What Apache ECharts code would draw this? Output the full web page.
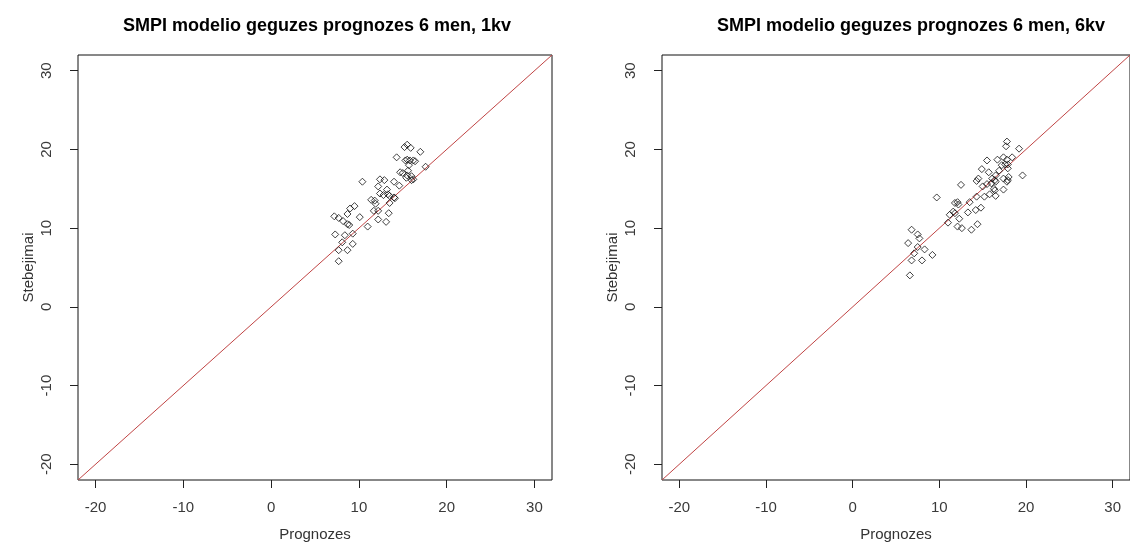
<!DOCTYPE html>
<html>
<head>
<meta charset="utf-8">
<script src="https://cdn.jsdelivr.net/npm/echarts@6/dist/echarts.min.js"></script>
<style>
  html, body { margin: 0; padding: 0; background: #fff; overflow: hidden; }
  #chart { width: 1130px; height: 551px; }
</style>
</head>
<body>
<div id="chart"></div>
<script>
// Forecast (Prognozes) vs observed (Stebejimai) values, 1-quarter model
var prog1 = [15.2,15.5,15.9,17.0,14.3,15.3,15.5,15.8,16.2,16.4,15.7,17.6,14.7,15.0,15.6,15.5,16.0,15.4,16.2,16.0,
             10.4,12.4,12.9,14.0,14.6,12.2,13.2,12.4,12.8,13.3,13.5,14.0,14.1,11.4,11.8,11.9,13.5,9.5,9.0,8.7,
             11.7,12.2,13.4,10.1,7.2,7.7,8.2,8.7,8.9,12.2,13.1,11.0,7.3,8.4,9.3,8.1,9.3,7.7,8.7,7.7];
var obs1  = [20.3,20.6,20.2,19.7,19.0,18.6,18.7,18.6,18.6,18.5,18.0,17.8,17.1,17.0,17.3,16.7,16.6,16.4,16.2,16.1,
             15.9,16.2,16.1,15.9,15.4,15.3,14.9,14.4,14.2,14.3,14.1,13.9,13.8,13.6,13.5,13.1,13.2,12.8,12.5,11.8,
             12.2,12.2,11.9,11.4,11.5,11.3,10.9,10.5,10.4,11.1,10.8,10.2,9.2,9.1,9.3,8.2,8.0,7.2,7.2,5.8];

// Forecast vs observed values, 6-quarter model
var prog6 = [17.8,17.7,19.2,15.5,16.7,17.4,17.8,18.4,17.2,17.6,17.9,17.9,14.9,15.7,16.9,16.5,17.4,18.0,19.6,14.3,
             14.5,16.1,16.4,12.5,15.0,15.5,16.0,16.5,17.8,17.9,16.3,16.4,17.4,14.3,15.2,15.8,16.5,9.7,13.5,11.8,
             12.1,12.2,14.8,14.2,13.3,11.2,11.8,11.6,12.3,11.0,14.4,13.7,12.1,12.6,6.8,7.5,7.7,6.4,7.5,8.3,
             9.2,7.1,6.8,8.0,6.6];
var obs6  = [21.0,20.4,20.1,18.6,18.7,19.0,18.7,19.0,18.0,18.1,18.1,17.6,17.5,17.1,17.3,16.7,16.3,16.5,16.7,16.0,
             16.3,16.3,16.1,15.5,15.3,15.6,15.7,15.9,15.9,16.1,15.0,14.8,14.9,14.0,14.0,14.3,14.1,13.9,13.3,13.2,
             13.3,13.0,12.6,12.3,12.0,11.7,11.9,12.1,11.2,10.7,10.5,9.8,10.2,10.0,9.8,9.2,8.7,8.1,7.6,7.3,
             6.6,6.8,5.9,5.9,4.0];

var titles = ['SMPI modelio geguzes prognozes 6 men, 1kv', 'SMPI modelio geguzes prognozes 6 men, 6kv'];
var xName = 'Prognozes';
var yName = 'Stebejimai';
var tickValues = [-20, -10, 0, 10, 20, 30];
var axisRange = [-22, 32];   // shared x / y limits
var identity = [-22, 32];    // y = x reference line ends

var FONT = '"Liberation Sans", Arial, sans-serif';

function pairs(xs, ys) {
  return xs.map(function (x, i) { return [x, ys[i]]; });
}

function xAxis(gi) {
  return {
    type: 'value', gridIndex: gi, min: axisRange[0], max: axisRange[1],
    name: xName, nameLocation: 'middle', nameGap: 47,
    nameTextStyle: { fontFamily: FONT, fontSize: 15, color: '#333' },
    axisLine: { show: false, onZero: false },
    splitLine: { show: false },
    axisTick: { show: true, inside: false, length: 8, customValues: tickValues,
                lineStyle: { color: '#222', width: 1 } },
    axisLabel: { customValues: tickValues, margin: 20, fontFamily: FONT, fontSize: 15, color: '#3a3a3a' }
  };
}

function yAxis(gi) {
  return {
    type: 'value', gridIndex: gi, min: axisRange[0], max: axisRange[1],
    name: yName, nameLocation: 'middle', nameGap: 42, nameRotate: 90,
    nameTextStyle: { fontFamily: FONT, fontSize: 15, color: '#333' },
    axisLine: { show: false, onZero: false },
    splitLine: { show: false },
    axisTick: { show: true, inside: false, length: 8, customValues: tickValues,
                lineStyle: { color: '#222', width: 1 } },
    axisLabel: { customValues: tickValues, rotate: 90, margin: 24, fontFamily: FONT, fontSize: 15, color: '#3a3a3a' }
  };
}

function scatter(gi, xs, ys) {
  return {
    type: 'scatter', xAxisIndex: gi, yAxisIndex: gi,
    data: pairs(xs, ys),
    symbol: 'diamond', symbolSize: 7,
    itemStyle: { color: 'rgba(0,0,0,0)', borderColor: '#111', borderWidth: 1 },
    silent: true, z: 3
  };
}

function refLine(gi) {
  return {
    type: 'line', xAxisIndex: gi, yAxisIndex: gi,
    data: identity.map(function (v) { return [v, v]; }),
    symbol: 'none', silent: true, z: 2,
    lineStyle: { color: '#c04444', width: 1 }
  };
}

var chart = echarts.init(document.getElementById('chart'), null, { renderer: 'canvas' });
chart.setOption({
  animation: false,
  backgroundColor: '#ffffff',
  title: [
    { text: titles[0], left: 312, top: 12, textAlign: 'center',
      textStyle: { fontFamily: FONT, fontSize: 18, fontWeight: 'bold', color: '#000' } },
    { text: titles[1], left: 906, top: 12, textAlign: 'center',
      textStyle: { fontFamily: FONT, fontSize: 18, fontWeight: 'bold', color: '#000' } }
  ],
  grid: [
    { left: 78, right: 578, top: 55, bottom: 71, show: true, borderColor: '#111', borderWidth: 1, backgroundColor: '#fff' },
    { left: 662, right: -7, top: 55, bottom: 71, show: true, borderColor: '#111', borderWidth: 1, backgroundColor: '#fff' }
  ],
  xAxis: [xAxis(0), xAxis(1)],
  yAxis: [yAxis(0), yAxis(1)],
  series: [refLine(0), scatter(0, prog1, obs1), refLine(1), scatter(1, prog6, obs6)]
});
</script>
</body>
</html>
